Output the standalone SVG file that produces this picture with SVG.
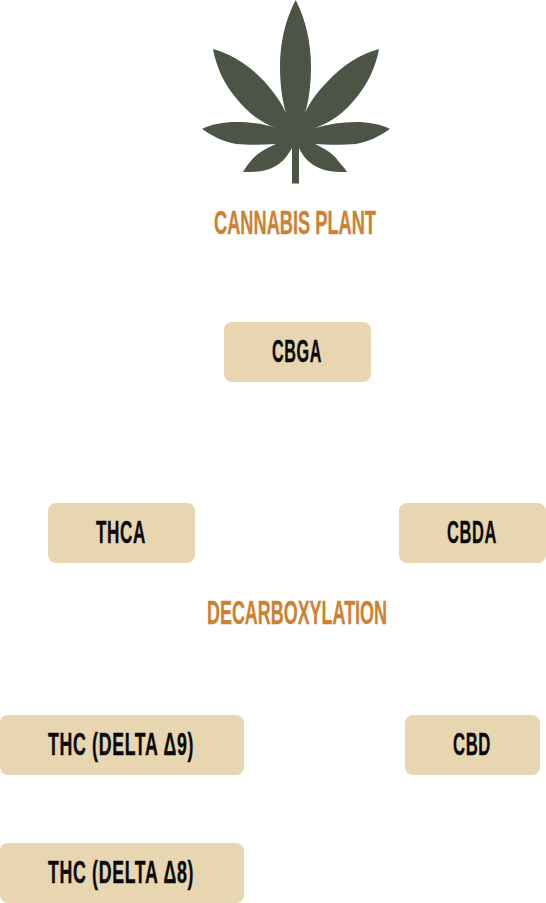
<svg xmlns="http://www.w3.org/2000/svg" width="546" height="903" viewBox="0 0 546 903">
<style>
.box{fill:#e8d6b1}
.t{font-family:"Liberation Sans Narrow","Liberation Sans",sans-serif;font-weight:700;font-size:31.500px;letter-spacing:1.200px;fill:#0a0a0a;stroke:#0a0a0a;stroke-width:.4px}
.h{font-family:"Liberation Sans Narrow","Liberation Sans",sans-serif;font-weight:700;font-size:33px;fill:#cd8133;stroke:#cd8133;stroke-width:.35px}
</style>
<rect width="546" height="903" fill="#fff"/>
<g id="leaf"><path fill="#4b5445" d="M295.700 0C285 20 280 44 280 66C280 84 282 100 286 113C280 100 272 90 264 81C250 66 232 54 213 49C216 66 224 84 236 98C247 112 260 122 276 128C264 124 250 122 236 122C224 122 212 124 202 129C212 136 224 142 236 144C248 145 262 145 276 144C265 149 257 153 250 162C247 165 245 169 243 172C253 172 263 172 272 168C281 164 287 157 292 148L292 183.500L299 183.500L299 148C303 157 310 164 319 168C328 172 337 172 347 172C345 169 342 165 339 162C333 153 325 149 315 144C328 145 343 145 356 144C368 142 380 136 390 129C380 124 368 122 356 122C342 122 328 124 315 128C332 122 345 112 356 98C368 84 376 66 379 49C360 54 342 66 328 81C319 90 311 100 305 113C309 100 311 84 311 66C311 44 306 20 295.700 0Z"/></g>
<g id="label-plant"><text class="h" x="295" y="234" text-anchor="middle" textLength="162" lengthAdjust="spacingAndGlyphs">CANNABIS PLANT</text></g>
<g id="node-cbga"><rect class="box" x="224" y="322" width="147" height="60" rx="8"/><text class="t" x="297" y="362" text-anchor="middle" textLength="50" lengthAdjust="spacingAndGlyphs">CBGA</text></g>
<g id="node-thca"><rect class="box" x="48" y="503" width="147" height="60" rx="8"/><text class="t" x="121" y="543" text-anchor="middle" textLength="50" lengthAdjust="spacingAndGlyphs">THCA</text></g>
<g id="node-cbda"><rect class="box" x="399" y="503" width="147" height="60" rx="8"/><text class="t" x="472" y="543" text-anchor="middle" textLength="50" lengthAdjust="spacingAndGlyphs">CBDA</text></g>
<g id="label-decarb"><text class="h" x="297" y="624" text-anchor="middle" textLength="180" lengthAdjust="spacingAndGlyphs">DECARBOXYLATION</text></g>
<g id="node-thc9"><rect class="box" x="0" y="715" width="244" height="60" rx="8"/><text class="t" x="121" y="755" text-anchor="middle" textLength="146" lengthAdjust="spacingAndGlyphs">THC (DELTA Δ9)</text></g>
<g id="node-cbd"><rect class="box" x="405" y="715" width="135" height="60" rx="8"/><text class="t" x="472" y="755" text-anchor="middle" textLength="38" lengthAdjust="spacingAndGlyphs">CBD</text></g>
<g id="node-thc8"><rect class="box" x="0" y="843" width="244" height="60" rx="8"/><text class="t" x="121" y="883" text-anchor="middle" textLength="146" lengthAdjust="spacingAndGlyphs">THC (DELTA Δ8)</text></g>
<g id="connectors"></g>
</svg>
